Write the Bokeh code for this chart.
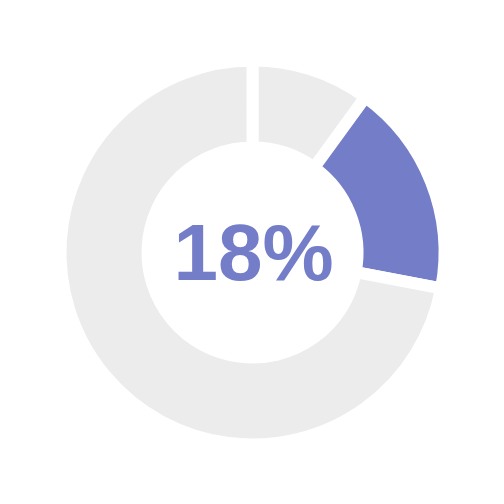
import math
from bokeh.plotting import figure
from bokeh.models import ColumnDataSource
from bokeh.core.properties import value
from bokeh.embed import file_html
from bokeh.resources import INLINE

labels = ["rest_a", "value", "rest_b"]
shares = [10, 18, 72]
colors = ["#ECECEC", "#737DC8", "#ECECEC"]
center_label = "18%"

total = sum(shares)
starts, ends = [], []
cum = 0
for s in shares:
    starts.append(math.pi / 2 - 2 * math.pi * cum / total)
    cum += s
    ends.append(math.pi / 2 - 2 * math.pi * cum / total)

src = ColumnDataSource(dict(label=labels, share=shares, color=colors,
                            start=starts, end=ends))

p = figure(width=504, height=504, output_backend="svg", toolbar_location=None,
           x_range=(-252, 252), y_range=(-252, 252), min_border=0)
p.axis.visible = False
p.grid.visible = False
p.outline_line_color = None
p.background_fill_color = "white"

p.annular_wedge(x=0, y=0, inner_radius=105, outer_radius=192,
                start_angle="start", end_angle="end", direction="clock",
                fill_color="color", line_color="white", line_width=12,
                source=src)

p.text(x=[1], y=[0], text=[center_label], text_align="center",
       text_baseline="middle", text_font=value("Liberation Sans"),
       text_font_style="bold", text_font_size="80px", text_color="#737DC8")

open("out.html", "w").write(file_html(p, INLINE))
